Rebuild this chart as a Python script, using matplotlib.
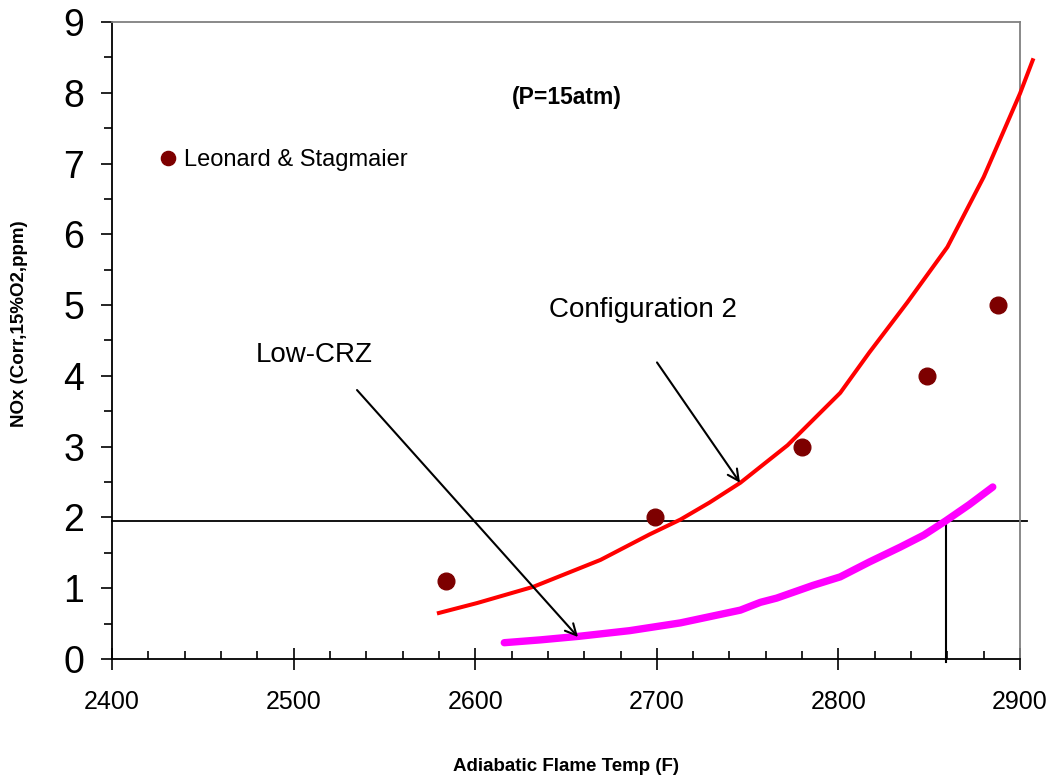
import numpy as np
import matplotlib
matplotlib.use("Agg")
import matplotlib.pyplot as plt
from matplotlib.ticker import MultipleLocator

plt.rcParams['font.family'] = ['Liberation Sans', 'DejaVu Sans']

# measured NOx points
meas_T = [2584, 2699, 2780, 2849, 2888]
meas_nox = [1.1, 2.0, 3.0, 4.0, 5.0]

# Configuration 2 prediction
conf2_T = [2580, 2601, 2632, 2669, 2696, 2713, 2729, 2746, 2772, 2801,
           2817, 2838, 2860, 2880, 2900, 2907]
conf2_nox = [0.65, 0.79, 1.02, 1.40, 1.76, 1.97, 2.21, 2.49, 3.02, 3.76,
             4.33, 5.04, 5.82, 6.81, 7.99, 8.46]

# Low-CRZ prediction
lowcrz_T = [2616, 2636, 2657, 2685, 2713, 2746, 2757, 2766, 2786, 2801,
            2817, 2834, 2847, 2859, 2872, 2885]
lowcrz_nox = [0.23, 0.27, 0.32, 0.40, 0.51, 0.69, 0.80, 0.86, 1.04, 1.16,
              1.37, 1.58, 1.75, 1.95, 2.18, 2.43]

nox_limit = 1.95
T_limit = 2859

fig = plt.figure(figsize=(10.48, 7.83), dpi=100)
ax = fig.add_axes([0.1069, 0.1584, 0.8664, 0.8135])

ax.plot(conf2_T, conf2_nox, color='#ff0000', lw=2.9, clip_on=False, zorder=3)
ax.plot(lowcrz_T, lowcrz_nox, color='#ff00ff', lw=5.3, solid_capstyle='round',
        solid_joinstyle='round', zorder=3)
ax.plot(meas_T, meas_nox, 'o', color='#7d0000', ms=12, ls='none',
        label='Leonard & Stagmaier', zorder=4)

# 2 ppm limit and the matching temperature
ax.plot([2400, 2904], [nox_limit, nox_limit], color='black', lw=1.3, clip_on=False)
ax.plot([T_limit, T_limit], [nox_limit, -0.04], color='black', lw=1.5, clip_on=False)

ax.set_xlim(2400, 2900)
ax.set_ylim(0, 9)
ax.xaxis.set_major_locator(MultipleLocator(100))
ax.xaxis.set_minor_locator(MultipleLocator(20))
ax.yaxis.set_major_locator(MultipleLocator(1))
ax.yaxis.set_minor_locator(MultipleLocator(0.5))

ax.tick_params(axis='x', which='major', direction='inout', length=16, width=1.2,
               labelsize=18, pad=14)
ax.tick_params(axis='x', which='minor', direction='in', length=6, width=1.2)
ax.tick_params(axis='y', which='major', direction='out', length=8, width=1.2,
               labelsize=27, pad=12)
ax.tick_params(axis='y', which='minor', direction='out', length=5.5, width=1.2)

for s in ['top', 'right']:
    ax.spines[s].set_color('#808080')
    ax.spines[s].set_linewidth(1.3)
for s in ['left', 'bottom']:
    ax.spines[s].set_linewidth(1.3)

ax.set_xlabel('Adiabatic Flame Temp (F)', fontsize=13.5, fontweight='bold', labelpad=32)
ax.set_ylabel('NOx (Corr,15%O2,ppm)', fontsize=13.5, fontweight='bold')
ax.yaxis.set_label_coords(-0.093, 0.526)

ax.text(2650.6, 7.94, '(P=15atm)', fontsize=16.5, fontweight='bold', ha='center', va='center')
ax.text(2692.4, 4.93, 'Configuration 2', fontsize=20, ha='center', va='center')
ax.text(2511.2, 4.29, 'Low-CRZ', fontsize=20, ha='center', va='center')

arrow_style = dict(arrowstyle='->', color='black', lw=1.5,
                   shrinkA=0, shrinkB=0, mutation_scale=20)
ax.annotate('', xy=(2745.8, 2.49), xytext=(2700.1, 4.19), arrowprops=arrow_style)
ax.annotate('', xy=(2656.6, 0.31), xytext=(2534.9, 3.80), arrowprops=arrow_style)

ax.legend(loc='center left', bbox_to_anchor=(0.049, 0.783), frameon=False,
          fontsize=17, handlelength=1.0, handletextpad=0.15, borderpad=0,
          borderaxespad=0, markerscale=0.85)

fig.savefig('out.png', dpi=100)
